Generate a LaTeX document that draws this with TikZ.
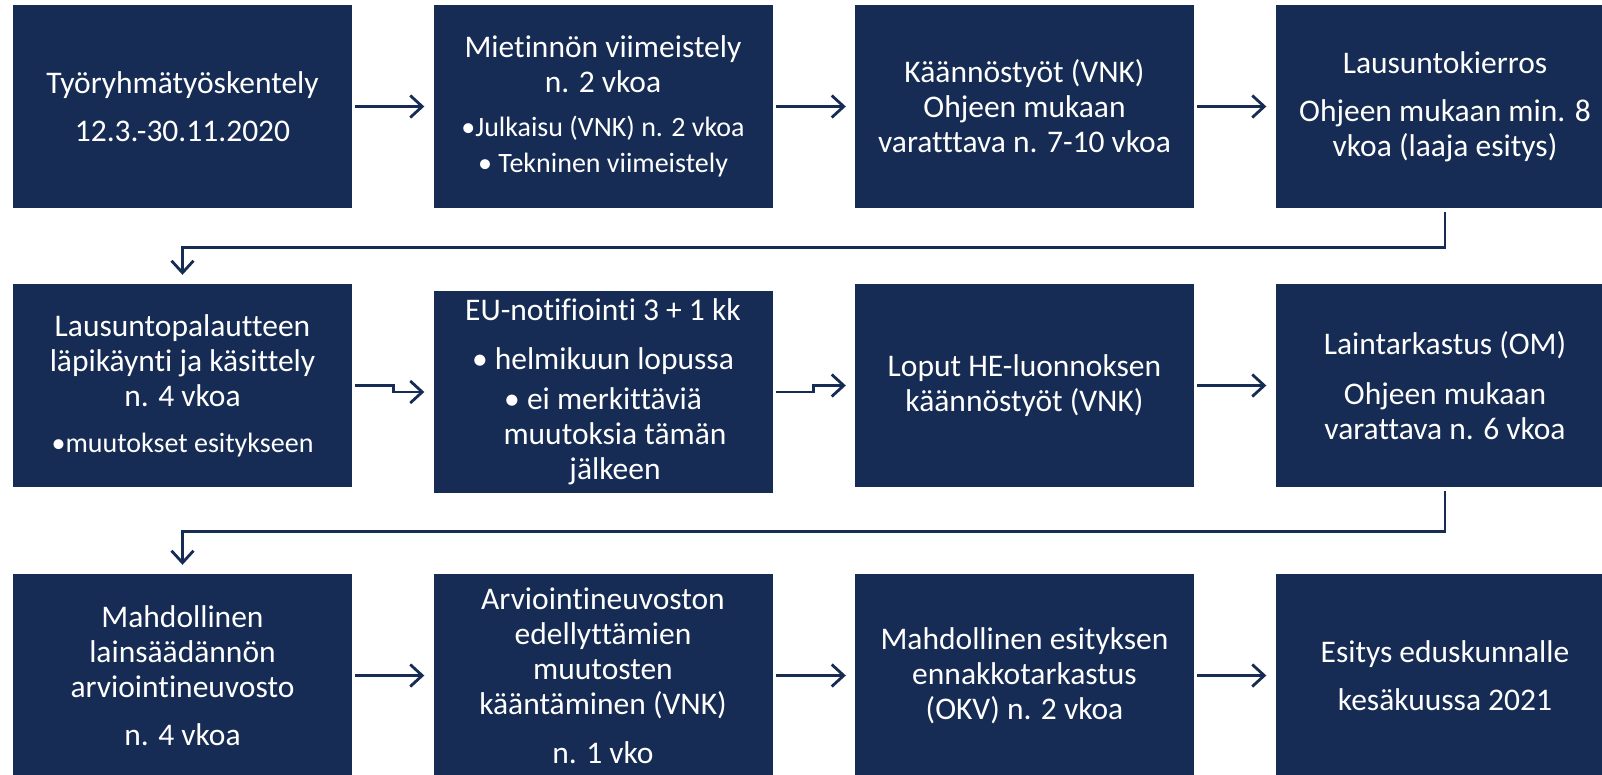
\documentclass[tikz,border=0pt]{standalone}
\usepackage{fontspec}
\setmainfont{Carlito}[Ligatures={NoCommon}]
\usetikzlibrary{arrows.meta}
\definecolor{navy}{RGB}{23,44,84}
\newcommand\bsz{\fontsize{28}{35}\selectfont}
\begin{document}
\begin{tikzpicture}[x=1pt,y=-1pt,
  box/.style={fill=navy, draw=none, minimum width=339pt, minimum height=203pt,
    inner sep=0pt, text=white, align=center, font=\fontsize{31.5}{35}\selectfont},
  arr/.style={draw=navy, line width=2.8pt, -{Straight Barb[length=12pt,width=22pt]}},
  hcon/.style={arr, shorten <=3pt, shorten >=9pt},
  vcon/.style={arr, shorten <=4pt, shorten >=9pt}]
\useasboundingbox (0,0) rectangle (1602,774);
\fill[white] (0,0) rectangle (1602,774);
\clip (0,0) rectangle (1602,774);
% row 1
\node[box] (r1a) at (182.5,106.5) {Työryhmätyöskentely\\[13pt]12.3.-30.11.2020};
\node[box] (r1b) at (603,106.5) {Mietinnön viimeistely\\n. 2 vkoa\\[9pt]{\bsz •Julkaisu (VNK) n. 2 vkoa}\\[1pt]{\bsz • Tekninen viimeistely}};
\node[box] (r1c) at (1024.5,106.5) {Käännöstyöt (VNK)\\Ohjeen mukaan\\varatttava n. 7-10 vkoa};
\node[box] (r1d) at (1445,106.5) {Lausuntokierros\\[13pt]Ohjeen mukaan min. 8\\vkoa (laaja esitys)};
% row 2
\node[box] (r2a) at (182.5,385.5) {Lausuntopalautteen\\läpikäynti ja käsittely\\n. 4 vkoa\\[11pt]{\bsz •muutokset esitykseen}};
\node[box, minimum height=202pt] (r2b) at (603,392) {EU-notifiointi 3 + 1 kk\\[14pt]• helmikuun lopussa\\[5pt]• ei merkittäviä\\\hspace*{24pt}muutoksia tämän\\\hspace*{24pt}jälkeen};
\node[box] (r2c) at (1024.5,385.5) {Loput HE-luonnoksen\\käännöstyöt (VNK)};
\node[box] (r2d) at (1445,385.5) {Laintarkastus (OM)\\[15pt]Ohjeen mukaan\\varattava n. 6 vkoa};
% row 3
\node[box] (r3a) at (182.5,675.5) {Mahdollinen\\lainsäädännön\\arviointineuvosto\\[13pt]n. 4 vkoa};
\node[box] (r3b) at (603,675.5) {Arviointineuvoston\\edellyttämien\\muutosten\\kääntäminen (VNK)\\[14pt]n. 1 vko};
\node[box] (r3c) at (1024.5,675.5) {Mahdollinen esityksen\\ennakkotarkastus\\(OKV) n. 2 vkoa};
\node[box] (r3d) at (1445,675.5) {Esitys eduskunnalle\\[13pt]kesäkuussa 2021};
% connectors row 1
\draw[hcon] (r1a.east) -- (r1b.west);
\draw[hcon] (r1b.east) -- (r1c.west);
\draw[hcon] (r1c.east) -- (r1d.west);
\draw[vcon] (r1d.south) -- ++(0,39) -| (r2a.north);
% connectors row 2
\draw[hcon] (r2a.east) -- ++(41,0) |- (r2b.west);
\draw[hcon] (r2b.east) -- ++(41,0) |- (r2c.west);
\draw[hcon] (r2c.east) -- (r2d.west);
\draw[vcon] (r2d.south) -- ++(0,44) -| (r3a.north);
% connectors row 3
\draw[hcon] (r3a.east) -- (r3b.west);
\draw[hcon] (r3b.east) -- (r3c.west);
\draw[hcon] (r3c.east) -- (r3d.west);
\end{tikzpicture}
\end{document}
